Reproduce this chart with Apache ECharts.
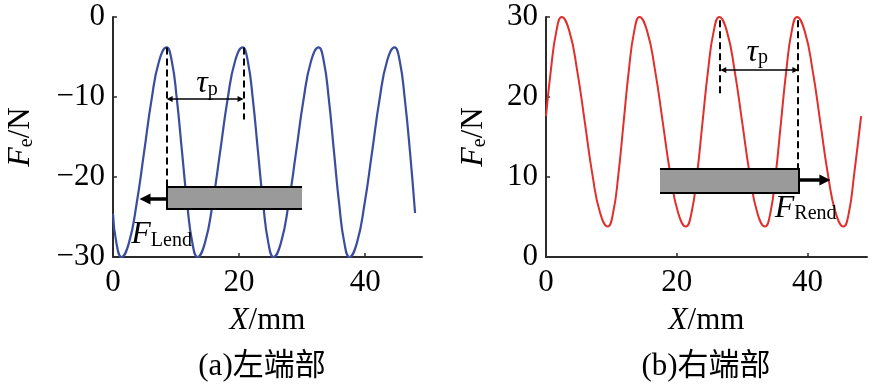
<!DOCTYPE html>
<html><head><meta charset="utf-8">
<script src="https://cdn.jsdelivr.net/npm/echarts@6/dist/echarts.min.js"></script>
<style>html,body{margin:0;padding:0;background:#fff}#c{width:873px;height:391px}</style>
</head><body><div id="c"></div>
<script>
// ---- data ----
const leftX = [0, 0.53, 1.35, 2.54, 3.73, 4.93, 6.12, 7.31, 8.5, 9.32, 10.13, 10.95, 11.77, 12.58, 13.4,
  14.59, 15.78, 16.98, 18.17, 19.36, 20.55, 21.37, 22.18, 23.0, 23.82, 24.63, 25.45,
  26.64, 27.83, 29.03, 30.22, 31.41, 32.6, 33.42, 34.23, 35.05, 35.87, 36.68, 37.5,
  38.69, 39.88, 41.08, 42.27, 43.46, 44.65, 45.47, 46.28, 47.1, 47.9];
const leftY = [-24.6, -28.2, -30, -28.2, -23.4, -16.9, -10.3, -5.5, -3.8, -5.5, -10.3, -16.9, -23.4, -28.2, -30,
  -28.2, -23.4, -16.9, -10.3, -5.5, -3.8, -5.5, -10.3, -16.9, -23.4, -28.2, -30,
  -28.2, -23.4, -16.9, -10.3, -5.5, -3.8, -5.5, -10.3, -16.9, -23.4, -28.2, -30,
  -28.2, -23.4, -16.9, -10.3, -5.5, -3.8, -5.5, -10.3, -16.9, -24.5];
const rightX = [0, 0.75, 1.58, 2.4, 3.58, 4.75, 5.93, 7.1, 8.28, 9.45, 10.26, 11.07, 11.88, 12.68, 13.49, 14.3,
  15.48, 16.67, 17.85, 19.03, 20.22, 21.4, 22.25, 23.1, 23.95, 24.8, 25.65, 26.5,
  27.67, 28.83, 30.0, 31.17, 32.33, 33.5, 34.32, 35.13, 35.95, 36.77, 37.58, 38.4,
  39.58, 40.77, 41.95, 43.13, 44.32, 45.5, 46.32, 47.13, 48.2];
const rightY = [17.6, 23.4, 28.2, 30, 28.2, 23.4, 16.9, 10.3, 5.5, 3.8, 5.5, 10.3, 16.9, 23.4, 28.2, 30,
  28.2, 23.4, 16.9, 10.3, 5.5, 3.8, 5.5, 10.3, 16.9, 23.4, 28.2, 30,
  28.2, 23.4, 16.9, 10.3, 5.5, 3.8, 5.5, 10.3, 16.9, 23.4, 28.2, 30,
  28.2, 23.4, 16.9, 10.3, 5.5, 3.8, 5.5, 10.3, 17.6];
const xTickValues = [0, 20, 40];
const subtitles = ['(a)左端部', '(b)右端部'];
const forceSubs = ['Lend', 'Rend'];

// annotation anchors in data units
const annoLeft = {
  dash: [[8.5, -3.8, -21.3], [20.7, -3.8, -12.8]],
  span: {y: -10.2, x1: 8.5, x2: 20.7},
  tau: [14.9, -8.3],
  bar: {x1: 8.5, x2: 29.9, y1: -21.3, y2: -24.05, open: 'right'},
  push: {y: -22.8, from: 8.5, to: 4.2},
  label: [2.9, -27.2]
};
const annoRight = {
  dash: [[26.65, 29.6, 20.3], [38.6, 29.6, 11.05]],
  span: {y: 23.4, x1: 26.65, x2: 38.6},
  tau: [32.3, 25.6],
  bar: {x1: 17.4, x2: 38.7, y1: 11.05, y2: 8.1, open: 'left'},
  push: {y: 9.6, from: 38.7, to: 43.5},
  label: [35.0, 6.1]
};

// ---- chart ----
const SERIF = "'Liberation Serif', 'Times New Roman', serif";
const MIX = "'Liberation Serif', 'Noto Sans CJK SC', serif";
const pair = (xs, ys) => xs.map((x, i) => [x, ys[i]]);
const fmt = v => v < 0 ? '\u2212' + Math.abs(v) : String(v);
const AX = '#2b2b2b';

function xAxisCfg(gi, max) {
  return {
    gridIndex: gi, type: 'value', min: 0, max: max, interval: 20,
    name: '{i|X}{n|/mm}', nameLocation: 'middle', nameGap: 48,
    nameTextStyle: {rich: {
      i: {fontFamily: SERIF, fontStyle: 'italic', fontSize: 31, color: '#000'},
      n: {fontFamily: SERIF, fontSize: 31, color: '#000'}}},
    axisLine: {show: true, onZero: false, lineStyle: {color: AX, width: 2}},
    axisTick: {show: true, inside: true, length: 4, customValues: xTickValues, lineStyle: {color: AX, width: 1.5}},
    axisLabel: {customValues: xTickValues, fontFamily: SERIF, fontSize: 31, color: '#000', margin: 10},
    splitLine: {show: false}
  };
}
function yAxisCfg(gi, min, max, gap) {
  return {
    gridIndex: gi, type: 'value', min: min, max: max, interval: 10,
    name: '{i|F}{s|e}{n|/N}', nameLocation: 'middle', nameGap: gap,
    nameTextStyle: {rich: {
      i: {fontFamily: SERIF, fontStyle: 'italic', fontSize: 32, lineHeight: 32, verticalAlign: 'middle', color: '#000'},
      s: {fontFamily: SERIF, fontSize: 20, lineHeight: 20, verticalAlign: 'bottom', color: '#000'},
      n: {fontFamily: SERIF, fontSize: 31, lineHeight: 32, verticalAlign: 'middle', color: '#000'}}},
    axisLine: {show: true, onZero: false, lineStyle: {color: AX, width: 2}},
    axisTick: {show: true, inside: true, length: 4, lineStyle: {color: AX, width: 1.5}},
    axisLabel: {fontFamily: SERIF, fontSize: 31, color: '#000', margin: 8, formatter: fmt},
    splitLine: {show: false}
  };
}

const chart = echarts.init(document.getElementById('c'), null, {renderer: 'canvas'});
chart.setOption({
  animation: false,
  backgroundColor: '#fff',
  grid: [
    {left: 113, top: 17, width: 309, height: 240, outerBoundsMode: 'none'},
    {left: 546, top: 17, width: 321, height: 240, outerBoundsMode: 'none'}
  ],
  xAxis: [xAxisCfg(0, 49), xAxisCfg(1, 49.1)],
  yAxis: [yAxisCfg(0, -30, 0, 76), yAxisCfg(1, 0, 30, 56)],
  series: [
    {type: 'line', xAxisIndex: 0, yAxisIndex: 0, data: pair(leftX, leftY), smooth: true,
     showSymbol: false, lineStyle: {color: '#3a4d9e', width: 2.2}, z: 2},
    {type: 'line', xAxisIndex: 1, yAxisIndex: 1, data: pair(rightX, rightY), smooth: true,
     showSymbol: false, lineStyle: {color: '#e0302c', width: 2}, z: 2}
  ]
});

function richLabel(main, sub) {
  return {
    text: '{m|' + main + '}{s|' + sub + '}',
    rich: {
      m: {fontFamily: SERIF, fontStyle: 'italic', fontSize: 32, lineHeight: 32, verticalAlign: 'middle', fill: '#000'},
      s: {fontFamily: SERIF, fontSize: 20, lineHeight: 20, verticalAlign: 'bottom', fill: '#000'}
    },
    fill: '#000'
  };
}

function buildAnno(gi, a, sub) {
  const P = (x, y) => chart.convertToPixel({gridIndex: gi}, [x, y]);
  const els = [];
  const Z = 100;
  // bar
  const b1 = P(a.bar.x1, a.bar.y1), b2 = P(a.bar.x2, a.bar.y2);
  const bx = Math.round(Math.min(b1[0], b2[0])), by = Math.round(Math.min(b1[1], b2[1]));
  const bw = Math.round(Math.abs(b2[0] - b1[0])), bh = Math.round(Math.abs(b2[1] - b1[1]));
  els.push({type: 'rect', z: Z, shape: {x: bx, y: by, width: bw, height: bh}, style: {fill: '#9a9a9a'}});
  let pts;
  if (a.bar.open === 'right') pts = [[bx + bw, by], [bx, by], [bx, by + bh], [bx + bw, by + bh]];
  else pts = [[bx, by], [bx + bw, by], [bx + bw, by + bh], [bx, by + bh]];
  els.push({type: 'polyline', z: Z + 1, shape: {points: pts}, style: {stroke: '#000', lineWidth: 2, fill: null}});
  // dashed
  a.dash.forEach(d => {
    const p1 = P(d[0], d[1]), p2 = P(d[0], d[2]);
    const x = Math.round(p1[0]);
    els.push({type: 'line', z: Z + 2, shape: {x1: x, y1: p1[1], x2: x, y2: p2[1]},
      style: {stroke: '#000', lineWidth: 2, lineDash: [7, 4]}});
  });
  // span double arrow
  const s1 = P(a.span.x1, a.span.y), s2 = P(a.span.x2, a.span.y);
  const sy = Math.round(s1[1]);
  const h = 6, w = 3;
  els.push({type: 'line', z: Z + 2, shape: {x1: s1[0] + 2, y1: sy, x2: s2[0] - 2, y2: sy}, style: {stroke: '#000', lineWidth: 1.6}});
  els.push({type: 'polygon', z: Z + 2, shape: {points: [[s1[0], sy], [s1[0] + h, sy - w], [s1[0] + h, sy + w]]}, style: {fill: '#000'}});
  els.push({type: 'polygon', z: Z + 2, shape: {points: [[s2[0], sy], [s2[0] - h, sy - w], [s2[0] - h, sy + w]]}, style: {fill: '#000'}});
  // tau label
  const t = P(a.tau[0], a.tau[1]);
  els.push({type: 'text', z: Z + 3, x: t[0], y: t[1],
    style: Object.assign(richLabel('τ', 'p'), {align: 'center', verticalAlign: 'middle', textAlign: 'center', textVerticalAlign: 'middle'})});
  // push arrow
  const q1 = P(a.push.from, a.push.y), q2 = P(a.push.to, a.push.y);
  const qy = Math.round(q1[1]);
  const dir = q2[0] > q1[0] ? 1 : -1;
  const H = 11, W = 5.5;
  els.push({type: 'line', z: Z + 2, shape: {x1: q1[0], y1: qy, x2: q2[0] - dir * (H - 1), y2: qy}, style: {stroke: '#000', lineWidth: 3.5}});
  els.push({type: 'polygon', z: Z + 2, shape: {points: [[q2[0], qy], [q2[0] - dir * H, qy - W], [q2[0] - dir * H, qy + W]]}, style: {fill: '#000'}});
  // force label
  const f = P(a.label[0], a.label[1]);
  els.push({type: 'text', z: Z + 3, x: f[0], y: f[1],
    style: Object.assign(richLabel('F', sub), {align: 'left', verticalAlign: 'middle', textAlign: 'left', textVerticalAlign: 'middle'})});
  return els;
}

const elements = [].concat(buildAnno(0, annoLeft, forceSubs[0]), buildAnno(1, annoRight, forceSubs[1]));
const subPos = [[262, 367], [706, 367]];
subtitles.forEach((txt, i) => {
  elements.push({type: 'text', z: 100, x: subPos[i][0], y: subPos[i][1],
    style: {text: txt, fontFamily: MIX, fontSize: 31, fill: '#000', align: 'center', verticalAlign: 'middle', textAlign: 'center', textVerticalAlign: 'middle'}});
});
chart.setOption({graphic: {elements: elements}});
</script></body></html>
